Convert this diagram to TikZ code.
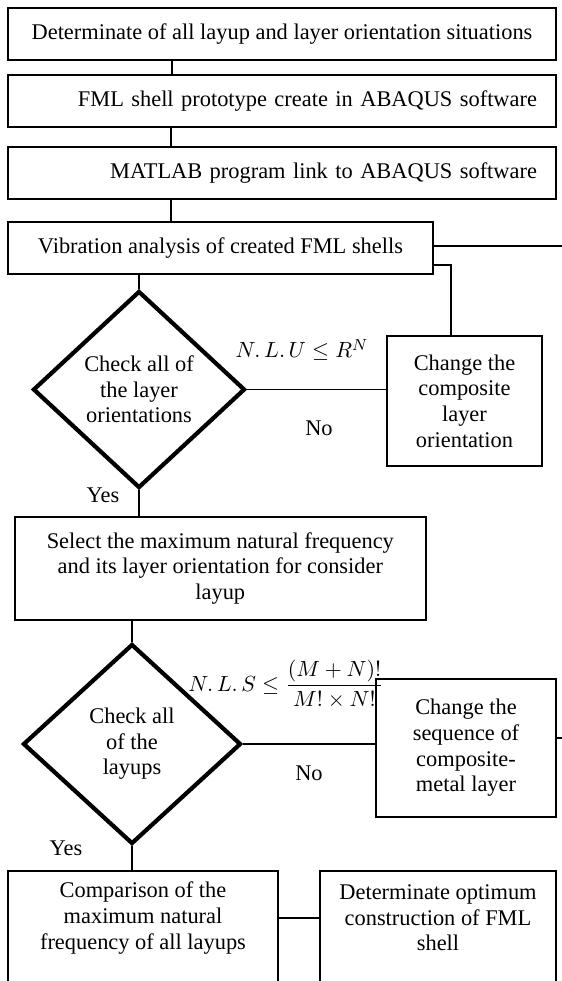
\documentclass[tikz,border=0pt]{standalone}
\usepackage{fontspec}
\setmainfont{Liberation Serif}
\usetikzlibrary{shapes.geometric}

\begin{document}
\begin{tikzpicture}[x=0.5pt, y=-0.5pt,
        font=\fontsize{11.2}{12.8}\selectfont,
        line width=0.8pt,
        stepbox/.style={draw, rectangle, inner sep=2pt, align=center},
        checkbox/.style={draw, diamond, line width=2.1pt, inner sep=0pt, align=center},
        link/.style={line width=0.8pt}]
        \clip (0, 0) rectangle (562, 981);

        % Nodes
        \node [stepbox, minimum width=274pt, minimum height=26pt] (top1) at (282, 34) {Determinate of all layup and layer orientation situations};
        \node [stepbox, text width=255pt, inner xsep=9.5pt, minimum height=26pt, align=right] (top2) at (282, 101) {FML shell prototype create in ABAQUS software};
        \node [stepbox, text width=255pt, inner xsep=9.5pt, minimum height=26pt, align=right] (top3) at (282, 173) {MATLAB program link to ABAQUS software};
        \node [stepbox, minimum width=212.5pt, minimum height=26pt] (vib) at (220.5, 248) {Vibration analysis of created FML shells};
        \node [checkbox, minimum width=106pt, minimum height=98.5pt] (d1) at (139, 389.5) {Check all of\\the layer\\orientations};
        \node [stepbox, minimum width=77.5pt, minimum height=65pt] (chg1) at (464.5, 401) {Change the\\composite\\layer\\orientation};
        \node [stepbox, minimum width=205.6pt, minimum height=51.5pt] (sel) at (220.3, 568.5) {Select the maximum natural frequency\\and its layer orientation for consider\\layup};
        \node [checkbox, minimum width=109pt, minimum height=100pt] (d2) at (132, 744) {Check all\\of the\\layups};
        \node [stepbox, minimum width=90pt, minimum height=69pt] (seq) at (466, 748) {Change the\\sequence of\\composite-\\metal layer};
        \node [stepbox, minimum width=135pt, minimum height=80pt, anchor=north] (cmp) at (143, 870) {};
        \node [stepbox, minimum width=118pt, minimum height=80pt, anchor=north] (opt) at (438, 870) {};
        \node [align=center] (cmptext) at (143, 918) {Comparison of the\\maximum natural\\frequency of all layups};
        \node [align=center] (opttext) at (438, 918) {Determinate optimum\\construction of FML\\shell};

        % Labels
        \node (rule1) at (302, 350) {$N.\,L.\,U \leq R^{N}$};
        \node (no1) at (319, 428) {No};
        \node (yes1) at (103, 495) {Yes};
        \node (rule2) at (286, 684) {$\displaystyle N.\,L.\,S \leq \frac{(M+N)!}{M!\times N!}$};
        \node (no2) at (309, 773) {No};
        \node (yes2) at (66, 848) {Yes};

        % Free ends
        \coordinate (edge1) at (562, 246);
        \coordinate (vibout) at (433, 265);
        \coordinate (turn1) at (451, 265);
        \coordinate (seqout) at (556, 738);
        \coordinate (edge2) at (562, 738);

        % Draw the links
        \draw [link] (top1.south -| 172, 0) -- (top2.north -| 172, 0);
        \draw [link] (top2.south -| 171, 0) -- (top3.north -| 171, 0);
        \draw [link] (top3.south -| 171, 0) -- (vib.north -| 171, 0);
        \draw [link] (vib.south -| d1.north) -- (d1.north);
        \draw [link] (vib.east |- edge1) -- (edge1);
        \draw [link] (vibout) -- (turn1) -- (turn1 |- chg1.north);
        \draw [link] (d1.east) -- (chg1.west |- d1.east);
        \draw [link] (d1.south) -- (sel.north -| d1.south);
        \draw [link] (sel.south -| d2.north) -- (d2.north);
        \draw [link] (d2.east) -- (seq.west |- d2.east);
        \draw [link] (seqout) -- (edge2);
        \draw [link] (d2.south) -- (cmp.north -| d2.south);
        \draw [link] (cmptext -| cmp.east) -- (cmptext -| opt.west);

    \end{tikzpicture}
\end{document}
